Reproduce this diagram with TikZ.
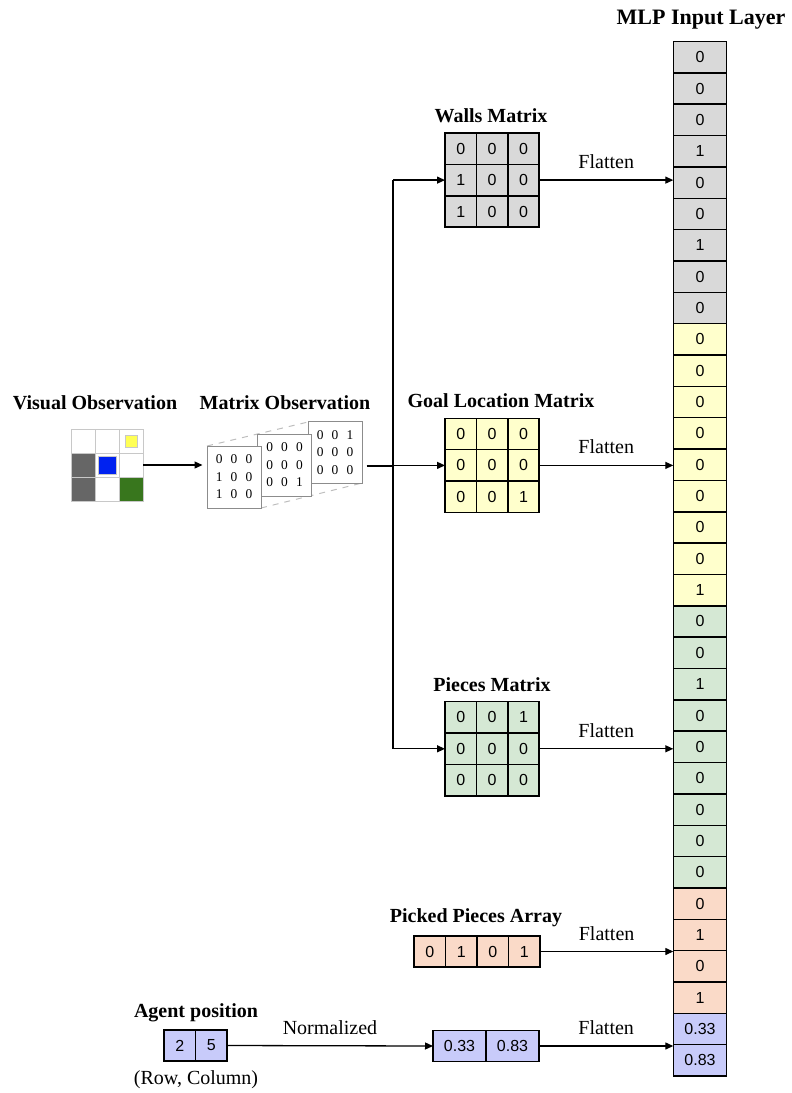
\documentclass[tikz,border=0pt]{standalone}
\usepackage{fontspec}
\setmainfont{Liberation Serif}
\newfontfamily\cellfont{Liberation Sans}
\usetikzlibrary{arrows.meta}

\definecolor{wallfill}{RGB}{217,217,217}
\definecolor{goalfill}{RGB}{255,255,204}
\definecolor{piecefill}{RGB}{213,232,212}
\definecolor{pickfill}{RGB}{250,218,200}
\definecolor{agentfill}{RGB}{200,203,250}
\definecolor{visgray}{RGB}{102,102,102}
\definecolor{visgreen}{RGB}{56,118,29}
\definecolor{visblue}{RGB}{0,34,240}
\definecolor{visyellow}{RGB}{255,255,85}
\definecolor{visgrid}{RGB}{200,200,200}
\definecolor{sheetgray}{RGB}{140,140,140}
\definecolor{sheetdash}{RGB}{190,190,190}

\newcommand{\obsgap}{\hspace{4.1pt}}

\tikzset{
  cell/.style={draw, line width=0.75pt, minimum width=15.7pt, minimum height=15.7pt,
    inner sep=0pt, outer sep=0pt, font=\cellfont\fontsize{8}{9}\selectfont},
  mlpcell/.style={cell, minimum width=26.7pt, minimum height=15.675pt},
  heading/.style={font=\bfseries\fontsize{10}{12}\selectfont},
  lbl/.style={font=\fontsize{10}{12}\selectfont},
  arr/.style={-{Triangle[length=4pt,width=3.5pt]}, line width=0.65pt},
  line/.style={line width=0.65pt},
  viscell/.style={draw=visgrid, line width=0.5pt, minimum size=12pt, inner sep=0pt, outer sep=0pt},
  sheet/.style={draw=sheetgray, fill=white, line width=0.5pt, minimum width=27pt,
    minimum height=31pt, inner sep=0pt, align=center, font=\fontsize{6.7}{8.75}\selectfont}
}

\begin{document}
\begin{tikzpicture}[x=0.5pt,y=-0.5pt]
  \useasboundingbox (0,0) rectangle (792,1093);

  \node[heading] (vistitle) at (95,403) {Visual Observation};
  \node[heading] (obstitle) at (285,403) {Matrix Observation};
  \node[heading] (walltitle) at (491,116) {Walls Matrix};
  \node[heading] (goaltitle) at (501,401) {Goal Location Matrix};
  \node[heading] (piecetitle) at (492,685) {Pieces Matrix};
  \node[heading] (picktitle) at (476,918) {Picked Pieces Array};
  \node[heading] (agenttitle) at (196,1013) {Agent position};
  \node[heading, font=\bfseries\fontsize{11}{13}\selectfont] (mlptitle) at (701,20) {MLP Input Layer};
  \node[lbl] (rowcol) at (196,1080) {(Row, Column)};

  \foreach \c/\f in {1/white,2/white,3/white}
    \node[viscell, fill=\f] (v1\c) at ({59+24*\c},441) {};
  \foreach \c/\f in {1/visgray,2/white,3/white}
    \node[viscell, fill=\f] (v2\c) at ({59+24*\c},465) {};
  \foreach \c/\f in {1/visgray,2/white,3/visgreen}
    \node[viscell, fill=\f] (v3\c) at ({59+24*\c},489) {};
  \node[draw=visgrid, fill=visblue, minimum size=9pt, inner sep=0pt] (agent) at (v22) {};
  \node[draw=visgrid, fill=visyellow, minimum size=6pt, inner sep=0pt] (piece) at (v13) {};

  \coordinate (backc) at (335,452.5);
  \coordinate (frontc) at (234,477);
  \draw[sheetdash, dashed, line width=0.5pt] (207,446) -- (308,422) (261,508) -- (362,483);
  \node[sheet] (back) at (backc) {0\obsgap0\obsgap1\\0\obsgap0\obsgap0\\0\obsgap0\obsgap0};
  \node[sheet] (middle) at (284.5,465) {0\obsgap0\obsgap0\\0\obsgap0\obsgap0\\0\obsgap0\obsgap1};
  \node[sheet] (front) at (frontc) {0\obsgap0\obsgap0\\1\obsgap0\obsgap0\\1\obsgap0\obsgap0};

  \foreach \r/\a/\b/\c in {1/0/0/0,2/1/0/0,3/1/0/0} {
    \node[cell, fill=wallfill] (w\r1) at (460.7,{117.3+31.4*\r}) {\a};
    \node[cell, fill=wallfill] (w\r2) at (492.1,{117.3+31.4*\r}) {\b};
    \node[cell, fill=wallfill] (w\r3) at (523.5,{117.3+31.4*\r}) {\c};
  }
  \foreach \r/\a/\b/\c in {1/0/0/0,2/0/0/0,3/0/0/1} {
    \node[cell, fill=goalfill] (g\r1) at (460.7,{402.6+31.4*\r}) {\a};
    \node[cell, fill=goalfill] (g\r2) at (492.1,{402.6+31.4*\r}) {\b};
    \node[cell, fill=goalfill] (g\r3) at (523.5,{402.6+31.4*\r}) {\c};
  }
  \foreach \r/\a/\b/\c in {1/0/0/1,2/0/0/0,3/0/0/0} {
    \node[cell, fill=piecefill] (p\r1) at (460.7,{686+31.4*\r}) {\a};
    \node[cell, fill=piecefill] (p\r2) at (492.1,{686+31.4*\r}) {\b};
    \node[cell, fill=piecefill] (p\r3) at (523.5,{686+31.4*\r}) {\c};
  }
  \foreach \v [count=\i] in {0,1,0,1}
    \node[cell, fill=pickfill] (k\i) at ({398.25+31.5*\i},951.5) {\v};

  \node[cell, fill=agentfill] (a1) at (179.75,1045.5) {2};
  \node[cell, fill=agentfill] (a2) at (211.25,1045.5) {5};
  \node[cell, fill=agentfill, minimum width=26.5pt] (n1) at (459.5,1046) {0.33};
  \node[cell, fill=agentfill, minimum width=26.5pt] (n2) at (512.5,1046) {0.83};

  \foreach \v [count=\i] in {0,0,0,1,0,0,1,0,0}
    \node[mlpcell, fill=wallfill] (m\i) at (700,{41.5+31.35*(\i-0.5)}) {\v};
  \foreach \v [count=\i from 10] in {0,0,0,0,0,0,0,0,1}
    \node[mlpcell, fill=goalfill] (m\i) at (700,{41.5+31.35*(\i-0.5)}) {\v};
  \foreach \v [count=\i from 19] in {0,0,1,0,0,0,0,0,0}
    \node[mlpcell, fill=piecefill] (m\i) at (700,{41.5+31.35*(\i-0.5)}) {\v};
  \foreach \v [count=\i from 28] in {0,1,0,1}
    \node[mlpcell, fill=pickfill] (m\i) at (700,{41.5+31.35*(\i-0.5)}) {\v};
  \foreach \v [count=\i from 32] in {0.33,0.83}
    \node[mlpcell, fill=agentfill] (m\i) at (700,{41.5+31.35*(\i-0.5)}) {\v};

  \draw[arr, shorten >=2pt] (v23.east) -- (v23.east -| front.west);

  \coordinate (split) at (393,466);
  \coordinate (obsout) at (back.east |- split);
  \draw[line] ([xshift=2pt]obsout) -- (split);
  \draw[line] (split |- w21.west) -- (split |- p21.west);
  \draw[arr] (split |- w21.west) -- (w21.west);
  \draw[arr] (split |- g21.west) -- (g21.west);
  \draw[arr] (split |- p21.west) -- (p21.west);

  \draw[arr] (w23.east) -- (w23.east -| m5.west) node[lbl, midway, above=2pt] {Flatten};
  \draw[arr] (g23.east) -- (g23.east -| m14.west) node[lbl, midway, above=2pt] {Flatten};
  \draw[arr] (p23.east) -- (p23.east -| m23.west) node[lbl, midway, above=2pt] {Flatten};
  \draw[arr] (k4.east) -- (k4.east -| m29.south west) node[lbl, midway, above=2pt] {Flatten};
  \draw[arr] (a2.east) -- (n1.west) node[lbl, midway, above=2pt] {Normalized};
  \draw[arr] (n2.east) -- (n2.east -| m32.south west) node[lbl, midway, above=2pt] {Flatten};
\end{tikzpicture}
\end{document}
